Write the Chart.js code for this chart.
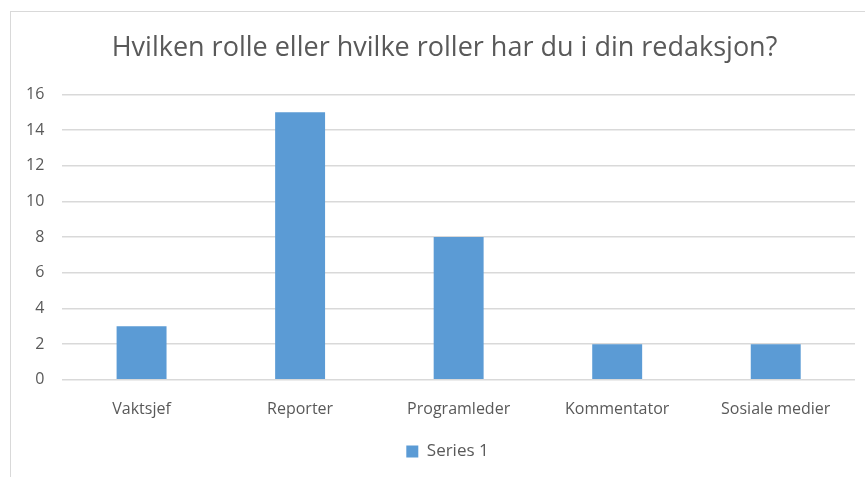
<!DOCTYPE html>
<html>
<head>
<meta charset="utf-8">
<script src="https://cdn.jsdelivr.net/npm/chart.js@4.4.0/dist/chart.umd.min.js"></script>
<style>
  html, body { margin: 0; padding: 0; background: #fff; }
  #ramme {
    position: absolute;
    left: 10px;
    top: 11px;
    width: 870px;
    height: 480px;
    border-left: 1.5px solid #d9d9d9;
    border-top: 1.5px solid #d9d9d9;
  }
  #wrap { position: absolute; left: 0; top: 0; width: 865px; height: 477px; }
</style>
</head>
<body>
<div id="ramme"></div>
<div id="wrap"><canvas id="graf"></canvas></div>
<script>
const kategorier = ["Vaktsjef", "Reporter", "Programleder", "Kommentator", "Sosiale medier"];
const serie1 = [3, 15, 8, 2, 2];
const yTicks = [0, 2, 4, 6, 8, 10, 12, 14, 16];

const tekstFarge = "#595959";
const fontFamilie = "'Open Sans', 'Noto Sans', sans-serif";

// flytt tittel og forklaring litt til høyre, som i originalen
const forskyvning = {
  id: "forskyvning",
  afterLayout: function (chart) {
    const t = chart.titleBlock;
    if (t) {
      t.left += 13;
      t.right += 13;
    }
    const l = chart.legend;
    if (l) {
      l.left += 16;
      l.right += 16;
    }
  }
};

document.addEventListener("DOMContentLoaded", function () {
  const ctx = document.getElementById("graf").getContext("2d");
  new Chart(ctx, {
    type: "bar",
    data: {
      labels: kategorier,
      datasets: [{
        label: "Series 1",
        data: serie1,
        backgroundColor: "#5b9bd5",
        borderWidth: 0,
        categoryPercentage: 1,
        barPercentage: 0.315
      }]
    },
    options: {
      responsive: true,
      maintainAspectRatio: false,
      animation: false,
      layout: {
        padding: { left: 8, right: 10, top: 22, bottom: 7 }
      },
      scales: {
        x: {
          grid: { display: false },
          border: { display: false },
          ticks: {
            color: tekstFarge,
            font: { family: fontFamilie, size: 16 },
            padding: 12
          }
        },
        y: {
          min: 0,
          max: 16,
          afterBuildTicks: function (axis) {
            axis.ticks = yTicks.map(v => ({ value: v }));
          },
          grid: { color: "#d9d9d9", lineWidth: 1.5, drawTicks: false },
          border: { display: false },
          ticks: {
            color: tekstFarge,
            font: { family: fontFamilie, size: 16 },
            padding: 18
          }
        }
      },
      plugins: {
        title: {
          display: true,
          text: "Hvilken rolle eller hvilke roller har du i din redaksjon?",
          color: tekstFarge,
          font: { family: fontFamilie, size: 27, weight: "normal" },
          padding: { top: 10, bottom: 30 }
        },
        legend: {
          position: "bottom",
          labels: {
            color: tekstFarge,
            font: { family: fontFamilie, size: 17 },
            boxWidth: 12,
            boxHeight: 12,
            padding: 12
          }
        },
        tooltip: { enabled: false }
      }
    },
    plugins: [forskyvning]
  });
});
</script>
</body>
</html>
